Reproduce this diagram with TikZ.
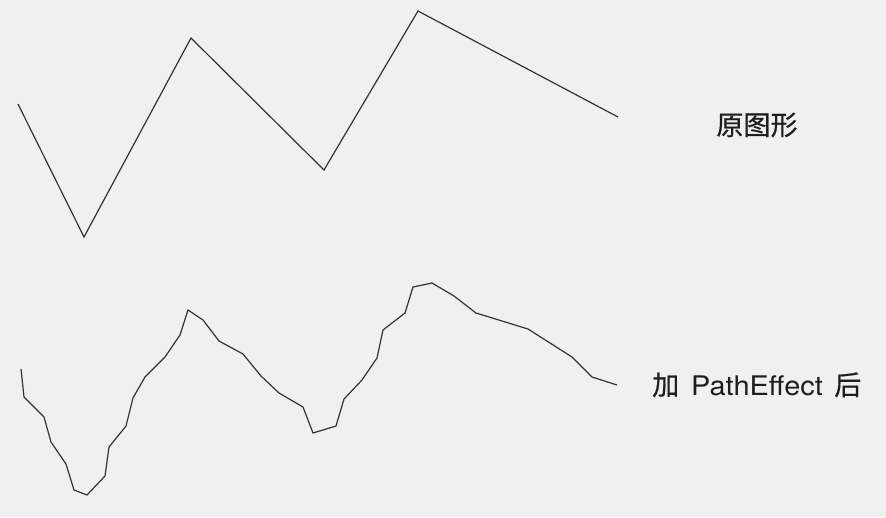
\documentclass[tikz,border=0pt]{standalone}
\usepackage{fontspec}
\setmainfont{Noto Sans CJK SC}[FakeBold=0.6]
\newfontfamily\latinfont{TeX Gyre Heros}
\definecolor{bg}{HTML}{F0F0F0}
\definecolor{ln}{HTML}{333333}
\definecolor{tx}{HTML}{1E1E1E}
\tikzset{curve/.style={draw=ln,line width=1.2pt,line join=miter},
  lab/.style={font=\fontsize{27}{32}\selectfont,text=tx,inner sep=0pt}}
\begin{document}
\begin{tikzpicture}[x=1pt,y=-1pt]
\fill[bg] (0,0) rectangle (886,517);
\useasboundingbox (0,0) rectangle (886,517);
\coordinate (a0) at (18,104);
\coordinate (a1) at (84,237);
\coordinate (a2) at (191,38);
\coordinate (a3) at (324,170);
\coordinate (a4) at (418,11);
\coordinate (a5) at (618,117);
\draw[curve] (a0) -- (a1) -- (a2) -- (a3) -- (a4) -- (a5);
\draw[curve] (21,369) -- (24,397) -- (44,417) -- (51,442) -- (66,464) -- (74,490) -- (87,495) -- (105,476) -- (109,447) -- (126,426) -- (133,398) -- (145,377) -- (165,357) -- (180,335) -- (188,310) -- (203,320) -- (219,341) -- (243,354) -- (261,376) -- (279,393) -- (303,407) -- (313,433) -- (336,426) -- (344,399) -- (362,380) -- (377,358) -- (383,330) -- (405,313) -- (413,287) -- (432,283) -- (454,296) -- (476,313) -- (528,329) -- (572,357) -- (592,377) -- (617,385);
\node[lab] (t1) at (757,125) {原图形};
\node[lab,anchor=base west] (t2) at (652,395) {加\hspace{12pt}\scalebox{1.07}[1]{\latinfont PathEffect}\hspace{11.5pt}后};
\end{tikzpicture}
\end{document}
